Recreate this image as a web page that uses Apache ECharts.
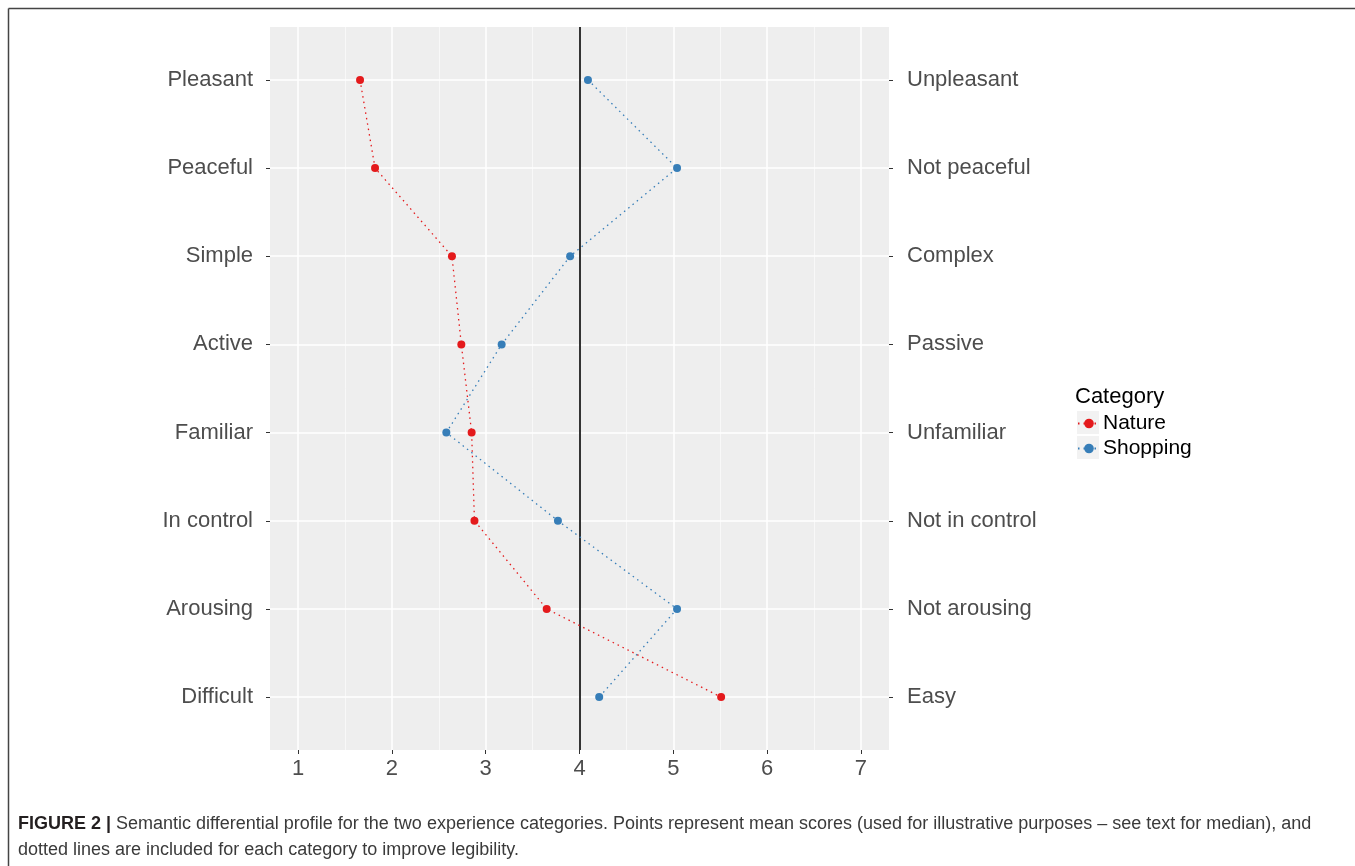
<!DOCTYPE html>
<html>
<head>
<meta charset="utf-8">
<script src="https://cdn.jsdelivr.net/npm/echarts@6/dist/echarts.min.js"></script>
<style>
html,body{margin:0;padding:0;background:#fff;}
#chart{width:1355px;height:866px;}
</style>
</head>
<body>
<div id="chart"></div>
<script>
// ---- data ----
var leftLabels = ['Pleasant','Peaceful','Simple','Active','Familiar','In control','Arousing','Difficult'];
var rightLabels = ['Unpleasant','Not peaceful','Complex','Passive','Unfamiliar','Not in control','Not arousing','Easy'];
var natureMeans = [1.66, 1.82, 2.64, 2.74, 2.85, 2.88, 3.65, 5.51];
var shoppingMeans = [4.09, 5.04, 3.90, 3.17, 2.58, 3.77, 5.04, 4.21];
var xTicks = [1, 2, 3, 4, 5, 6, 7];
var xMinor = [1.5, 2.5, 3.5, 4.5, 5.5, 6.5];
var midpoint = 4;
var seriesNames = ['Nature', 'Shopping'];

var FONT = '"Liberation Sans", Arial, Helvetica, sans-serif';
var yPos = leftLabels.map(function (_, i) { return i + 1; });

function pairs(vals) { return vals.map(function (v, i) { return [v, yPos[i]]; }); }

var gridLines = [];
xMinor.forEach(function (v) { gridLines.push({ xAxis: v, lineStyle: { color: '#F8F8F8', width: 1, type: 'solid' } }); });
xTicks.forEach(function (v) { gridLines.push({ xAxis: v, lineStyle: { color: '#FFFFFF', width: 1.5, type: 'solid' } }); });
yPos.forEach(function (v) { gridLines.push({ yAxis: v, lineStyle: { color: '#FFFFFF', width: 1.5, type: 'solid' } }); });

var chart = echarts.init(document.getElementById('chart'), null, { renderer: 'canvas' });

var option = {
  animation: false,
  backgroundColor: '#ffffff',
  grid: { left: 270, top: 27, width: 619, height: 723, show: true, backgroundColor: '#EEEEEE', borderWidth: 0, containLabel: false },
  xAxis: {
    type: 'value', min: 0.7, max: 7.3,
    axisLine: { show: false },
    splitLine: { show: false },
    axisTick: { show: true, customValues: xTicks, length: 4, lineStyle: { color: '#333333', width: 1 } },
    axisLabel: { customValues: xTicks, color: '#4D4D4D', fontSize: 22, fontFamily: FONT, margin: 8 }
  },
  yAxis: [
    {
      type: 'value', min: 0.4, max: 8.6, inverse: true, position: 'left',
      axisLine: { show: false }, splitLine: { show: false },
      axisTick: { show: true, customValues: yPos, length: 4, lineStyle: { color: '#333333', width: 1 } },
      axisLabel: { customValues: yPos, color: '#4D4D4D', fontSize: 22, fontFamily: FONT, margin: 17,
        formatter: function (v) { return leftLabels[Math.round(v) - 1] || ''; } }
    },
    {
      type: 'value', min: 0.4, max: 8.6, inverse: true, position: 'right',
      axisLine: { show: false }, splitLine: { show: false },
      axisTick: { show: true, customValues: yPos, length: 4, lineStyle: { color: '#333333', width: 1 } },
      axisLabel: { customValues: yPos, color: '#4D4D4D', fontSize: 22, fontFamily: FONT, margin: 18,
        formatter: function (v) { return rightLabels[Math.round(v) - 1] || ''; } }
    }
  ],
  legend: {
    show: true, orient: 'vertical', left: 1077, top: 412, padding: 0,
    data: seriesNames,
    itemWidth: 22, itemHeight: 12, itemGap: 2,
    textStyle: { color: '#000000', fontSize: 21, fontFamily: FONT, padding: [0, 0, 0, -2], lineHeight: 23 },
    selectedMode: false
  },
  graphic: [
    { type: 'rect', left: 1077, top: 411, shape: { width: 22, height: 23 }, style: { fill: '#F2F2F2' }, z: -1 },
    { type: 'rect', left: 1077, top: 436, shape: { width: 22, height: 23 }, style: { fill: '#F2F2F2' }, z: -1 },
    { type: 'text', left: 1075, top: 386, style: { text: 'Category', fill: '#000000', font: '22px ' + FONT } },
    { type: 'line', shape: { x1: 8.5, y1: 8.5, x2: 1355, y2: 8.5 }, style: { stroke: '#444444', lineWidth: 1.5 } },
    { type: 'line', shape: { x1: 8.5, y1: 8.5, x2: 8.5, y2: 866 }, style: { stroke: '#444444', lineWidth: 1.5 } },
    { type: 'text', left: 18, top: 815, style: {
        text: '{b|FIGURE 2 |} Semantic differential profile for the two experience categories. Points represent mean scores (used for illustrative purposes \u2013 see text for median), and',
        rich: { b: { fontWeight: 'bold', fontSize: 18, fontFamily: FONT, fill: '#231F20' } },
        font: '18px ' + FONT, fill: '#3A3A3A' } },
    { type: 'text', left: 18, top: 841, style: {
        text: 'dotted lines are included for each category to improve legibility.',
        font: '18px ' + FONT, fill: '#3A3A3A' } }
  ],
  series: [
    {
      name: '_grid', type: 'line', data: [], z: 1, silent: true,
      markLine: { z: 1, silent: true, symbol: ['none', 'none'], label: { show: false }, animation: false, data: gridLines }
    },
    {
      name: '_mid', type: 'line', data: [], z: 2, silent: true,
      markLine: { z: 2, silent: true, symbol: ['none', 'none'], label: { show: false }, animation: false,
        data: [{ xAxis: midpoint, lineStyle: { color: '#333333', width: 2, type: 'solid' } }] }
    },
    {
      name: seriesNames[0], type: 'line', data: pairs(natureMeans), z: 3,
      symbol: 'circle', symbolSize: 8, showSymbol: true,
      itemStyle: { color: '#E41A1C' },
      lineStyle: { color: '#E41A1C', width: 1.3, type: [1.5, 4] }
    },
    {
      name: seriesNames[1], type: 'line', data: pairs(shoppingMeans), z: 3,
      symbol: 'circle', symbolSize: 8, showSymbol: true,
      itemStyle: { color: '#377EB8' },
      lineStyle: { color: '#377EB8', width: 1.3, type: [1.5, 4] }
    }
  ]
};
chart.setOption(option);
</script>
</body>
</html>
